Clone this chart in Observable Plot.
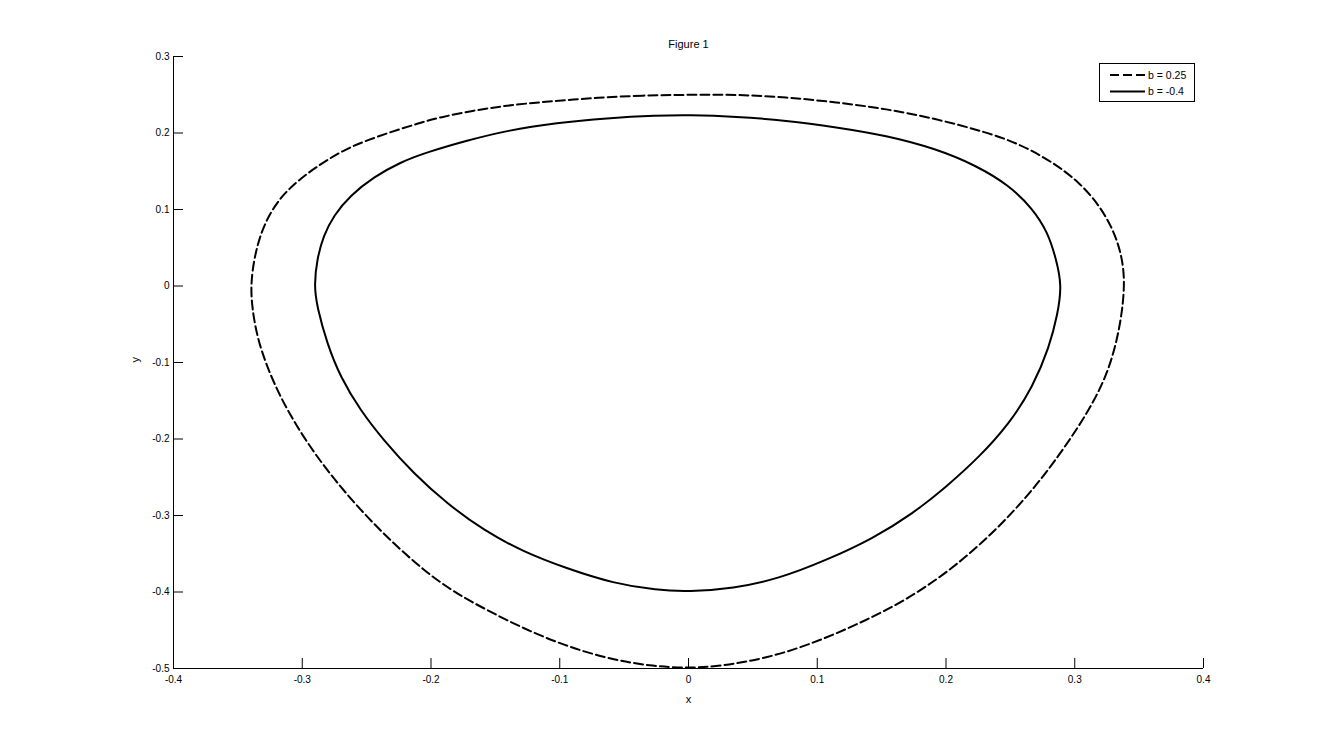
<!DOCTYPE html>
<html>
<head>
<meta charset="utf-8">
<script src="https://cdn.jsdelivr.net/npm/d3@7"></script>
<script src="https://cdn.jsdelivr.net/npm/@observablehq/plot@0.6"></script>
<style>
  body { margin: 0; background: #fff; }
  #chart { position: relative; width: 1329px; height: 750px; background: #fff; }
  #legend { position: absolute; left: 1099px; top: 63px; }
  text { font-family: "Liberation Sans", Arial, sans-serif; }
</style>
</head>
<body>
<div id="chart"></div>
<script>
// ---------- data ----------
const chartTitle = "Figure 1";
const xLabel = "x";
const yLabel = "y";
const seriesLabels = ["b = 0.25", "b = -0.4"];

const xTicks = [-0.4, -0.3, -0.2, -0.1, 0, 0.1, 0.2, 0.3, 0.4];
const yTicks = [-0.5, -0.4, -0.3, -0.2, -0.1, 0, 0.1, 0.2, 0.3];

// b = 0.25 (dashed) orbit, traced counter-clockwise from the top
const dashedX = [
  0, -0.0375, -0.0634, -0.0893, -0.1151, -0.1410, -0.1669, -0.1928, -0.2109, -0.2316,
  -0.2497, -0.2627, -0.2745, -0.2859, -0.2963, -0.3070, -0.3160, -0.3245, -0.3320, -0.3375, -0.3400,
  -0.3390, -0.3351, -0.3273, -0.3170, -0.3040, -0.2885, -0.2704, -0.2497, -0.2290, -0.2057,
  -0.1825, -0.1565, -0.1281, -0.0970, -0.0634, -0.0297, 0,
  0.0241, 0.0603, 0.0966, 0.1328, 0.1690, 0.2053, 0.2389, 0.2674, 0.2907, 0.3113, 0.3269, 0.3359, 0.3393,
  0.3359, 0.3295, 0.3191, 0.3036, 0.2829, 0.2570, 0.2311, 0.1923, 0.1535, 0.1147, 0.0758, 0.0370
];
const dashedY = [
  0.2500, 0.2490, 0.2468, 0.2438, 0.2403, 0.2360, 0.2294, 0.2207, 0.2121, 0.2011,
  0.1903, 0.1815, 0.1710, 0.1590, 0.1467, 0.1320, 0.1170, 0.0966, 0.0704, 0.0357, 0.0008,
  -0.0276, -0.0668, -0.1060, -0.1452, -0.1843, -0.2235, -0.2627, -0.3019, -0.3367, -0.3716,
  -0.3999, -0.4238, -0.4477, -0.4696, -0.4869, -0.4970, -0.4995,
  -0.4970, -0.4869, -0.4673, -0.4412, -0.4108, -0.3694, -0.3193, -0.2671, -0.2148, -0.1625, -0.1103, -0.0493, 0.0073,
  0.0443, 0.0749, 0.1053, 0.1357, 0.1619, 0.1859, 0.2011, 0.2186, 0.2316, 0.2403, 0.2468, 0.2503
];

// b = -0.4 (solid) orbit, traced counter-clockwise from the top
const solidX = [
  0, -0.0245, -0.0634, -0.1022, -0.1410, -0.1720, -0.2031, -0.2238, -0.2446, -0.2627,
  -0.2756, -0.2834, -0.2885, -0.2908,
  -0.2885, -0.2807, -0.2704, -0.2549, -0.2368, -0.2135, -0.1876, -0.1592, -0.1281, -0.0944,
  -0.0582, -0.0245, 0,
  0.0345, 0.0707, 0.1069, 0.1432, 0.1742, 0.2001, 0.2259, 0.2492, 0.2674, 0.2803, 0.2868, 0.2900,
  0.2855, 0.2790, 0.2674, 0.2492, 0.2234, 0.1923, 0.1535, 0.1147, 0.0758, 0.0370
];
const solidY = [
  0.2235, 0.2229, 0.2194, 0.2134, 0.2033, 0.1902, 0.1749, 0.1619, 0.1423, 0.1184,
  0.0922, 0.0661, 0.0357, 0.0008,
  -0.0276, -0.0754, -0.1190, -0.1625, -0.2017, -0.2452, -0.2844, -0.3193, -0.3477, -0.3694,
  -0.3889, -0.3977, -0.3995,
  -0.3955, -0.3824, -0.3585, -0.3302, -0.2975, -0.2627, -0.2235, -0.1799, -0.1321, -0.0798, -0.0362, 0.0010,
  0.0357, 0.0704, 0.1010, 0.1314, 0.1576, 0.1794, 0.1968, 0.2076, 0.2164, 0.2216
];

// ---------- build ----------
const dashedRows = dashedX.map((x, i) => ({x, y: dashedY[i], series: seriesLabels[0]}));
const solidRows = solidX.map((x, i) => ({x, y: solidY[i], series: seriesLabels[1]}));

const fmt = d => (d === 0 ? "0" : d.toFixed(1));
const W = 1329, H = 750;
const mL = 173, mR = 126, mT = 56, mB = 82;
const plotW = W - mL - mR, plotH = H - mT - mB;
const tickLen = 10;
const dash = "9,4";

const chart = Plot.plot({
  width: W,
  height: H,
  marginLeft: mL,
  marginRight: mR,
  marginTop: mT,
  marginBottom: mB,
  style: {fontFamily: "'Liberation Sans', Arial, sans-serif", fontSize: "10px", color: "#000", background: "#fff", overflow: "visible"},
  x: {domain: [-0.4, 0.4]},
  y: {domain: [-0.5, 0.3]},
  marks: [
    Plot.axisX({ticks: xTicks, tickSize: 0, tickPadding: 7, tickFormat: fmt, label: null, fill: "#000"}),
    Plot.axisY({ticks: yTicks, tickSize: 0, tickPadding: 4, tickFormat: fmt, label: null, fill: "#000"}),
    Plot.ruleX(xTicks, {x: d => d, insetTop: plotH - tickLen, stroke: "#000", strokeWidth: 1}),
    Plot.ruleY(yTicks, {y: d => d, insetRight: plotW - tickLen, stroke: "#000", strokeWidth: 1}),
    Plot.ruleX([xTicks[0]], {stroke: "#000", strokeWidth: 1}),
    Plot.ruleY([yTicks[0]], {stroke: "#000", strokeWidth: 1}),
    Plot.line(dashedRows, {x: "x", y: "y", curve: "basis-closed", stroke: "#000", strokeWidth: 2, strokeDasharray: dash}),
    Plot.line(solidRows, {x: "x", y: "y", curve: "basis-closed", stroke: "#000", strokeWidth: 2}),
    Plot.text([chartTitle], {text: d => d, frameAnchor: "top", lineAnchor: "middle", dy: -12, fontSize: 11, fill: "#000"}),
    Plot.text([xLabel], {text: d => d, frameAnchor: "bottom", lineAnchor: "middle", dy: 31, fontSize: 11, fill: "#000"}),
    Plot.text([yLabel], {text: d => d, frameAnchor: "left", dx: -38, rotate: -90, fontSize: 11, fill: "#000"})
  ]
});
const host = document.getElementById("chart");
host.appendChild(chart);

// ---------- legend (MATLAB style box, top right) ----------
const lg = d3.select(host).append("div").attr("id", "legend")
  .append("svg").attr("width", 98).attr("height", 40);
lg.append("rect").attr("x", 0.5).attr("y", 0.5).attr("width", 95).attr("height", 38)
  .attr("fill", "#fff").attr("stroke", "#000").attr("stroke-width", 1);
const dashes = [dash, null];
seriesLabels.forEach((label, i) => {
  const cy = 12 + i * 16.5;
  lg.append("line").attr("x1", 11).attr("x2", 46).attr("y1", cy).attr("y2", cy)
    .attr("stroke", "#000").attr("stroke-width", 2)
    .attr("stroke-dasharray", dashes[i]);
  lg.append("text").attr("x", 49).attr("y", cy).attr("dy", "0.35em")
    .attr("font-size", 10.5).attr("fill", "#000").text(label);
});
</script>
</body>
</html>
